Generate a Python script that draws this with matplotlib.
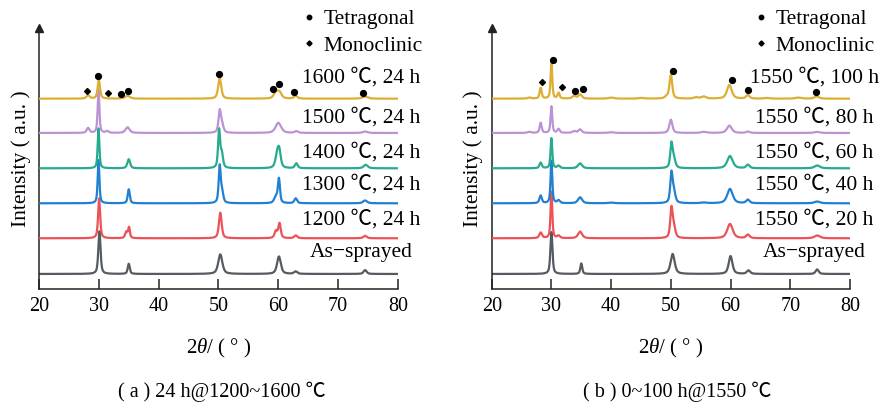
import matplotlib
matplotlib.use('Agg')
from matplotlib import pyplot as plt
from matplotlib.lines import Line2D
import numpy as np

plt.rcParams['font.family'] = ['Liberation Serif', 'Noto Sans CJK SC', 'DejaVu Sans']
plt.rcParams['mathtext.fontset'] = 'custom'
plt.rcParams['mathtext.rm'] = 'Liberation Serif'
plt.rcParams['mathtext.it'] = 'Liberation Serif:italic'

# peak tables: (2theta, height, fwhm), heights in trace-spacing units
a_as_sprayed = [(30.1, 1.22, 0.32), (35.0, 0.29, 0.3), (50.3, 0.56, 0.6), (60.1, 0.5, 0.55),
                (62.9, 0.07, 0.5), (74.5, 0.11, 0.45)]
a_1200 = [(30.05, 1.14, 0.3), (34.6, 0.18, 0.35), (35.05, 0.3, 0.25), (50.3, 0.73, 0.4),
          (59.6, 0.2, 0.4), (60.2, 0.42, 0.35), (62.9, 0.08, 0.45), (74.5, 0.07, 0.5)]
a_1300 = [(29.95, 1.24, 0.25), (35.0, 0.4, 0.3), (50.2, 1.05, 0.3), (50.6, 0.3, 0.35),
          (59.6, 0.18, 0.5), (60.1, 0.68, 0.3), (62.9, 0.14, 0.4), (74.5, 0.08, 0.6)]
a_1400 = [(29.95, 1.14, 0.25), (35.0, 0.26, 0.4), (50.1, 1.08, 0.3), (50.55, 0.4, 0.35),
          (59.8, 0.35, 0.5), (60.15, 0.45, 0.45), (63.0, 0.14, 0.4), (74.6, 0.1, 0.6)]
a_1500 = [(28.2, 0.14, 0.4), (29.95, 1.24, 0.25), (31.4, 0.05, 0.4), (34.8, 0.16, 0.6),
          (50.2, 0.62, 0.35), (50.6, 0.22, 0.4), (60.0, 0.29, 0.8), (63.0, 0.05, 0.5),
          (74.5, 0.04, 0.7)]
a_1600 = [(28.2, 0.1, 0.45), (30.0, 0.53, 0.35), (34.8, 0.08, 0.7), (50.2, 0.58, 0.45),
          (59.6, 0.18, 0.6), (60.2, 0.17, 0.6), (62.9, 0.08, 0.5), (74.5, 0.06, 0.8)]

b_as_sprayed = [(30.0, 1.2, 0.3), (35.0, 0.3, 0.28), (50.3, 0.57, 0.6), (60.0, 0.51, 0.55),
                (63.0, 0.1, 0.5), (74.5, 0.13, 0.45)]
b_20h = [(28.2, 0.16, 0.4), (30.0, 1.33, 0.25), (31.2, 0.07, 0.4), (34.8, 0.19, 0.6),
         (50.1, 0.82, 0.35), (50.5, 0.3, 0.45), (59.9, 0.41, 0.8), (62.9, 0.1, 0.5),
         (74.5, 0.08, 0.8)]
b_40h = [(28.2, 0.22, 0.35), (30.0, 1.22, 0.25), (31.2, 0.08, 0.4), (34.8, 0.17, 0.6),
         (40.0, 0.02, 0.8), (50.1, 0.83, 0.35), (50.5, 0.3, 0.45), (55.5, 0.02, 0.8),
         (59.9, 0.41, 0.8), (62.9, 0.1, 0.5), (74.5, 0.05, 0.8)]
b_60h = [(28.2, 0.16, 0.35), (30.0, 0.86, 0.25), (31.2, 0.07, 0.4), (34.8, 0.14, 0.6),
         (50.1, 0.68, 0.35), (50.5, 0.25, 0.45), (59.9, 0.35, 0.8), (62.9, 0.1, 0.5),
         (74.5, 0.08, 0.8)]
b_80h = [(26.3, 0.03, 0.5), (28.2, 0.29, 0.3), (30.0, 0.76, 0.25), (31.2, 0.11, 0.35),
         (33.8, 0.05, 0.5), (34.8, 0.1, 0.5), (40.0, 0.02, 0.8), (50.0, 0.38, 0.45),
         (55.5, 0.03, 0.8), (59.8, 0.21, 0.7), (62.9, 0.04, 0.5), (74.5, 0.03, 0.8)]
b_100h = [(26.3, 0.03, 0.5), (28.2, 0.31, 0.3), (30.0, 1.02, 0.25), (31.2, 0.16, 0.3),
          (33.8, 0.08, 0.5), (34.8, 0.12, 0.5), (40.0, 0.03, 0.8), (45.0, 0.02, 0.8),
          (49.3, 0.05, 0.5), (50.0, 0.68, 0.4), (54.2, 0.04, 0.6), (55.5, 0.06, 0.7),
          (59.8, 0.39, 0.7), (62.9, 0.1, 0.5), (66.0, 0.02, 0.6), (71.3, 0.03, 0.8),
          (74.4, 0.06, 0.7)]

a_labels = ['As\u2212sprayed', '1200 \u2103, 24 h', '1300 \u2103, 24 h', '1400 \u2103, 24 h',
            '1500 \u2103, 24 h', '1600 \u2103, 24 h']
b_labels = ['As\u2212sprayed', '1550 \u2103, 20 h', '1550 \u2103, 40 h', '1550 \u2103, 60 h',
            '1550 \u2103, 80 h', '1550 \u2103, 100 h']
label_y = [1.03, 1.97, 2.97, 3.89, 4.89, 6.04]
baselines = [0.43, 1.45, 2.45, 3.45, 4.46, 5.44]
colors = ['#555b61', '#ec5257', '#2180d2', '#26ab8e', '#bb93d4', '#deae34']

# phase markers on the top trace (2theta, y)
a_tet_x = [29.9, 33.7, 34.8, 50.1, 59.1, 60.1, 62.6, 74.1]
a_tet_y = [6.09, 5.57, 5.66, 6.14, 5.71, 5.86, 5.63, 5.6]
a_mono_x = [28.1, 31.5]
a_mono_y = [5.66, 5.6]
b_tet_x = [30.3, 33.9, 35.3, 50.4, 60.2, 63.0, 74.3]
b_tet_y = [6.54, 5.67, 5.71, 6.23, 5.97, 5.69, 5.64]
b_mono_x = [28.5, 31.7]
b_mono_y = [5.91, 5.78]

captions = ['( a ) 24 h@1200~1600 \u2103', '( b ) 0~100 h@1550 \u2103']


def pattern(x, peaks):
    y = np.zeros_like(x)
    for pos, h, w in peaks:
        w = w * 1.35
        g = np.exp(-4 * np.log(2) * ((x - pos) / w) ** 2)
        lz = 1.0 / (1.0 + 4 * ((x - pos) / w) ** 2)
        y += h * (0.4 * g + 0.6 * lz)
    return y


def draw_panel(ax, traces, labels, label_x, tet_x, tet_y, mono_x, mono_y):
    x = np.linspace(20, 80, 4000)
    for i, peaks in enumerate(traces):
        ax.plot(x, baselines[i] + pattern(x, peaks), color=colors[i], lw=1.6, zorder=2 + i,
                solid_joinstyle='round')
        ax.text(label_x, label_y[i], labels[i], ha='center', va='center', fontsize=15.5,
                clip_on=False)
    ax.plot(tet_x, tet_y, 'o', color='k', ms=4.2, ls='none', zorder=20)
    ax.plot(mono_x, mono_y, 'D', color='k', ms=3.0, ls='none', zorder=20)

    ax.set_xlim(20, 80)
    ax.set_ylim(0, 7.46)
    for s in ['top', 'right']:
        ax.spines[s].set_visible(False)
    for s in ['left', 'bottom']:
        ax.spines[s].set_linewidth(1.1)
        ax.spines[s].set_color('#222222')
    ax.set_xticks(np.arange(20, 81, 10))
    ax.tick_params(axis='x', direction='in', length=7, width=1.1, color='#222222',
                   labelsize=14.5, pad=6)
    ax.set_yticks([])
    ax.plot(0, 1, marker='^', ms=6, color='#222222', transform=ax.transAxes, clip_on=False,
            zorder=30)
    ax.set_ylabel('Intensity ( a.u. )', fontsize=15.5, labelpad=6)
    ax.set_xlabel('2$\\theta$/ ( \u00b0 )', fontsize=15)
    ax.xaxis.set_label_coords(0.5, -0.185)

    handles = [Line2D([], [], marker='o', ms=3.2, color='k', ls='none'),
               Line2D([], [], marker='D', ms=2.6, color='k', ls='none')]
    return handles


fig = plt.figure(figsize=(8.87, 4.08), dpi=100)
ax1 = fig.add_axes([39 / 887, 119 / 408, 359 / 887, 261 / 408])
ax2 = fig.add_axes([491.7 / 887, 119 / 408, 358.3 / 887, 261 / 408])

h = draw_panel(ax1, [a_as_sprayed, a_1200, a_1300, a_1400, a_1500, a_1600], a_labels, 73.8,
               a_tet_x, a_tet_y, a_mono_x, a_mono_y)
draw_panel(ax2, [b_as_sprayed, b_20h, b_40h, b_60h, b_80h, b_100h], b_labels, 74.0,
           b_tet_x, b_tet_y, b_mono_x, b_mono_y)

for ax, lx in [(ax1, 303 / 887), (ax2, 755 / 887)]:
    ax.legend(h, ['Tetragonal', 'Monoclinic'], loc='upper left', bbox_to_anchor=(lx, 0.978),
              bbox_transform=fig.transFigure, frameon=False, fontsize=15.5, handlelength=0.6,
              handletextpad=0.35, borderpad=0, borderaxespad=0, labelspacing=0.3)

fig.text(222 / 887, 1 - 392 / 408, captions[0], ha='center', va='center', fontsize=14.5)
fig.text(677 / 887, 1 - 392 / 408, captions[1], ha='center', va='center', fontsize=14.5)

fig.savefig('out.png', dpi=100)
